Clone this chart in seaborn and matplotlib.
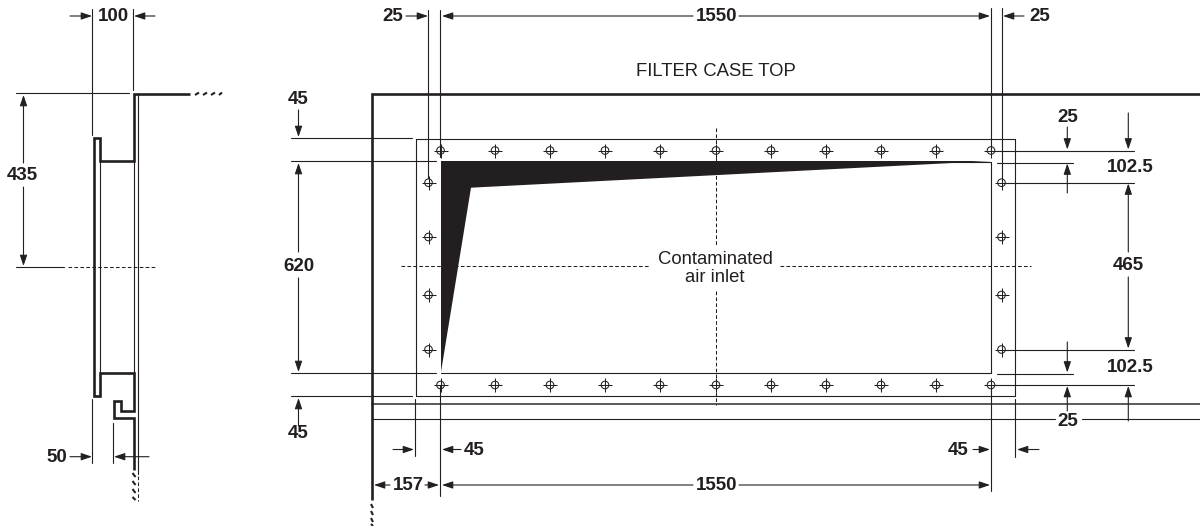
import pandas as pd
import matplotlib.pyplot as plt
import seaborn as sns

INK = '#231f20'

# Bolt hole centres
holes_row_x = [440.5, 495, 550, 605, 660, 716, 771, 826, 881, 936, 991]
holes_row_y = [150.5, 385]
holes_col_x = [428.5, 1001.5]
holes_col_y = [182.7, 237, 295, 349.5]

# Outline of the two views, heavy lines
heavy_lines = [
    [(190, 94), (134, 94), (134, 161.3), (100, 161.3), (100, 138), (93.8, 138), (93.8, 396), (100, 396), (100, 373), (134, 373), (134, 411), (120.5, 411), (120.5, 401), (113.5, 401), (113.5, 418), (134, 418), (134, 470)],
    [(372, 500), (372, 94), (1200, 94)],
]
heavy_ticks = [
    [(195, 95), (199, 92.5)], [(203, 95), (207, 92.5)], [(211, 95), (215, 92.5)], [(219, 95), (222, 92.5)],
    [(132.5, 473), (135.5, 477)], [(132.5, 481), (135.5, 485)], [(132.5, 489), (135.5, 493)], [(132.5, 497), (135.5, 500)],
    [(371, 504), (373, 508)], [(371, 511), (373, 515)], [(371, 518), (373, 522)], [(371, 524), (373, 526)],
]

# Thin lines: extension, witness and frame lines
thin_lines = [
    # left view
    [(92.3, 9), (92.3, 135)], [(133.3, 9), (133.3, 90)],
    [(16, 93.3), (129, 93.3)], [(16, 266.7), (64, 266.7)],
    [(100, 161), (100, 373)], [(134, 161), (134, 373)], [(138.3, 94), (138.3, 474)],
    [(92.3, 399), (92.3, 463)], [(113, 423), (113, 463)],
    # top witness lines
    [(428.3, 10), (428.3, 178)], [(440.3, 10), (440.3, 157)],
    [(990.7, 8), (990.7, 150)], [(1001.7, 8), (1001.7, 178)],
    # frames
    [(415.7, 138.5), (1015.4, 138.5), (1015.4, 396), (415.7, 396), (415.7, 138.5)],
    [(441, 161.5), (991.3, 161.5), (991.3, 372.7), (441, 372.7)],
    # left witness lines
    [(291, 138.3), (412, 138.3)], [(291, 161.3), (436, 161.3)],
    [(291, 373), (436, 373)], [(291, 396), (412, 396)],
    # right witness lines
    [(994, 150.5), (1134, 150.5)], [(997, 162.5), (1073, 162.5)], [(1005, 182.7), (1134, 182.7)],
    [(1005, 349.5), (1134, 349.5)], [(997, 373.5), (1073, 373.5)], [(994, 385), (1134, 385)],
    # bottom lines
    [(372, 419.3), (1055, 419.3)], [(1082, 419.3), (1200, 419.3)],
    [(415, 399), (415, 456)], [(440.3, 385), (440.3, 496)],
    [(1015.4, 399), (1015.4, 457)], [(991.3, 385), (991.3, 490.7)],
]
medium_lines = [[(372, 404), (1200, 404)]]

# Dashed centre lines
dashed_lines = [
    [(68, 266.7), (157, 266.7)], [(138.3, 476), (138.3, 501)],
    [(401, 266), (650, 266)], [(780, 266), (1031, 266)],
    [(715.7, 128), (715.7, 245)], [(715.7, 291), (715.7, 405)],
]

# Filled wedge
wedge = [(441, 161), (991, 161), (471, 187.7), (441, 372)]

# Dimension arrows as tail x, tail y, tip x, tip y
arrows = [
    (70, 16, 92, 16), (155, 16, 134, 16),
    (23.5, 163, 23.5, 95), (23.5, 187, 23.5, 266),
    (70, 456.7, 92, 456.7), (149, 456.7, 114, 456.7),
    (406, 16, 428, 16), (693, 16, 442, 16), (739, 16, 990, 16), (1024, 16, 1003, 16),
    (298.5, 110, 298.5, 137), (298.5, 252, 298.5, 163), (298.5, 278, 298.5, 372), (298.5, 426, 298.5, 398),
    (393, 449.5, 414, 449.5), (461, 449.5, 442, 449.5), (973, 449.5, 990, 449.5), (1039, 449.5, 1017, 449.5),
    (390, 485, 374, 485), (425, 485, 439, 485), (693, 485, 442, 485), (739, 485, 990, 485),
    (1067.3, 127, 1067.3, 149.5), (1067.3, 193, 1067.3, 163.5),
    (1128.3, 113, 1128.3, 149.5), (1128.3, 252, 1128.3, 183.5),
    (1128.3, 277, 1128.3, 348.5), (1067.3, 342, 1067.3, 372.5),
    (1067.3, 411, 1067.3, 386), (1128.3, 421, 1128.3, 386),
]

# Dimension labels
dim_labels = ['100', '435', '50', '25', '1550', '25', '45', '620', '45', '45', '45', '157', '1550', '25', '102.5', '465', '102.5', '25']
dim_x = [113, 22, 56.5, 392.5, 716.5, 1039.5, 298, 298.5, 298.5, 474, 958.5, 408, 716.5, 1067.5, 1130, 1128, 1130, 1068]
dim_y = [16.5, 175.5, 457.5, 16.5, 16.5, 16.5, 99, 266.5, 434, 450.5, 450.5, 486, 486, 117.5, 167, 265.5, 368, 422]

# Plain labels
note_labels = ['FILTER CASE TOP', 'Contaminated', 'air inlet']
note_x = [716, 715, 715]
note_y = [71, 259, 278]

sns.set_theme(style='white')
plt.rcParams['font.family'] = ['Liberation Sans', 'DejaVu Sans']

fig = plt.figure(figsize=(12, 5.26), dpi=100)
ax = fig.add_axes([0, 0, 1, 1])


def draw_lines(lines, width, **kws):
    rows = []
    for i, line in enumerate(lines):
        for x, y in line:
            rows.append({'seg': i, 'x': x, 'y': y})
    df = pd.DataFrame(rows)
    sns.lineplot(data=df, x='x', y='y', units='seg', estimator=None, sort=False,
                 color=INK, linewidth=width, legend=False, ax=ax, **kws)


draw_lines(thin_lines, 0.8)
draw_lines(medium_lines, 1.3, alpha=0.8)
draw_lines(dashed_lines, 0.75, linestyle=(0, (3.5, 2.2)))
draw_lines(heavy_lines, 1.9, solid_joinstyle='miter', solid_capstyle='butt')
draw_lines(heavy_ticks, 1.5, solid_capstyle='butt')

ax.fill(*zip(*wedge), color=INK, lw=0)

# Bolt holes
holes = pd.DataFrame(
    [(x, y) for y in holes_row_y for x in holes_row_x] +
    [(x, y) for x in holes_col_x for y in holes_col_y], columns=['x', 'y'])
sns.scatterplot(data=holes, x='x', y='y', marker='o', s=30, facecolor='none',
                edgecolor=INK, linewidth=0.75, ax=ax, zorder=3)
sns.scatterplot(data=holes, x='x', y='y', marker='+', s=95, color=INK,
                linewidth=0.75, ax=ax, zorder=4)

for x0, y0, x1, y1 in arrows:
    ax.annotate('', xy=(x1, y1), xytext=(x0, y0),
                arrowprops=dict(arrowstyle='-|>,head_length=0.65,head_width=0.22', mutation_scale=10,
                                shrinkA=0, shrinkB=0, color=INK, lw=0.8))

for label, x, y in zip(dim_labels, dim_x, dim_y):
    ax.text(x, y, label, ha='center', va='center', fontsize=13.5, fontweight='bold', color=INK)
for label, x, y in zip(note_labels, note_x, note_y):
    ax.text(x, y, label, ha='center', va='center', fontsize=13.3, color=INK)

ax.set_xlim(0, 1200)
ax.set_ylim(526, 0)
ax.axis('off')
fig.savefig('out.png', dpi=100, facecolor='white')
